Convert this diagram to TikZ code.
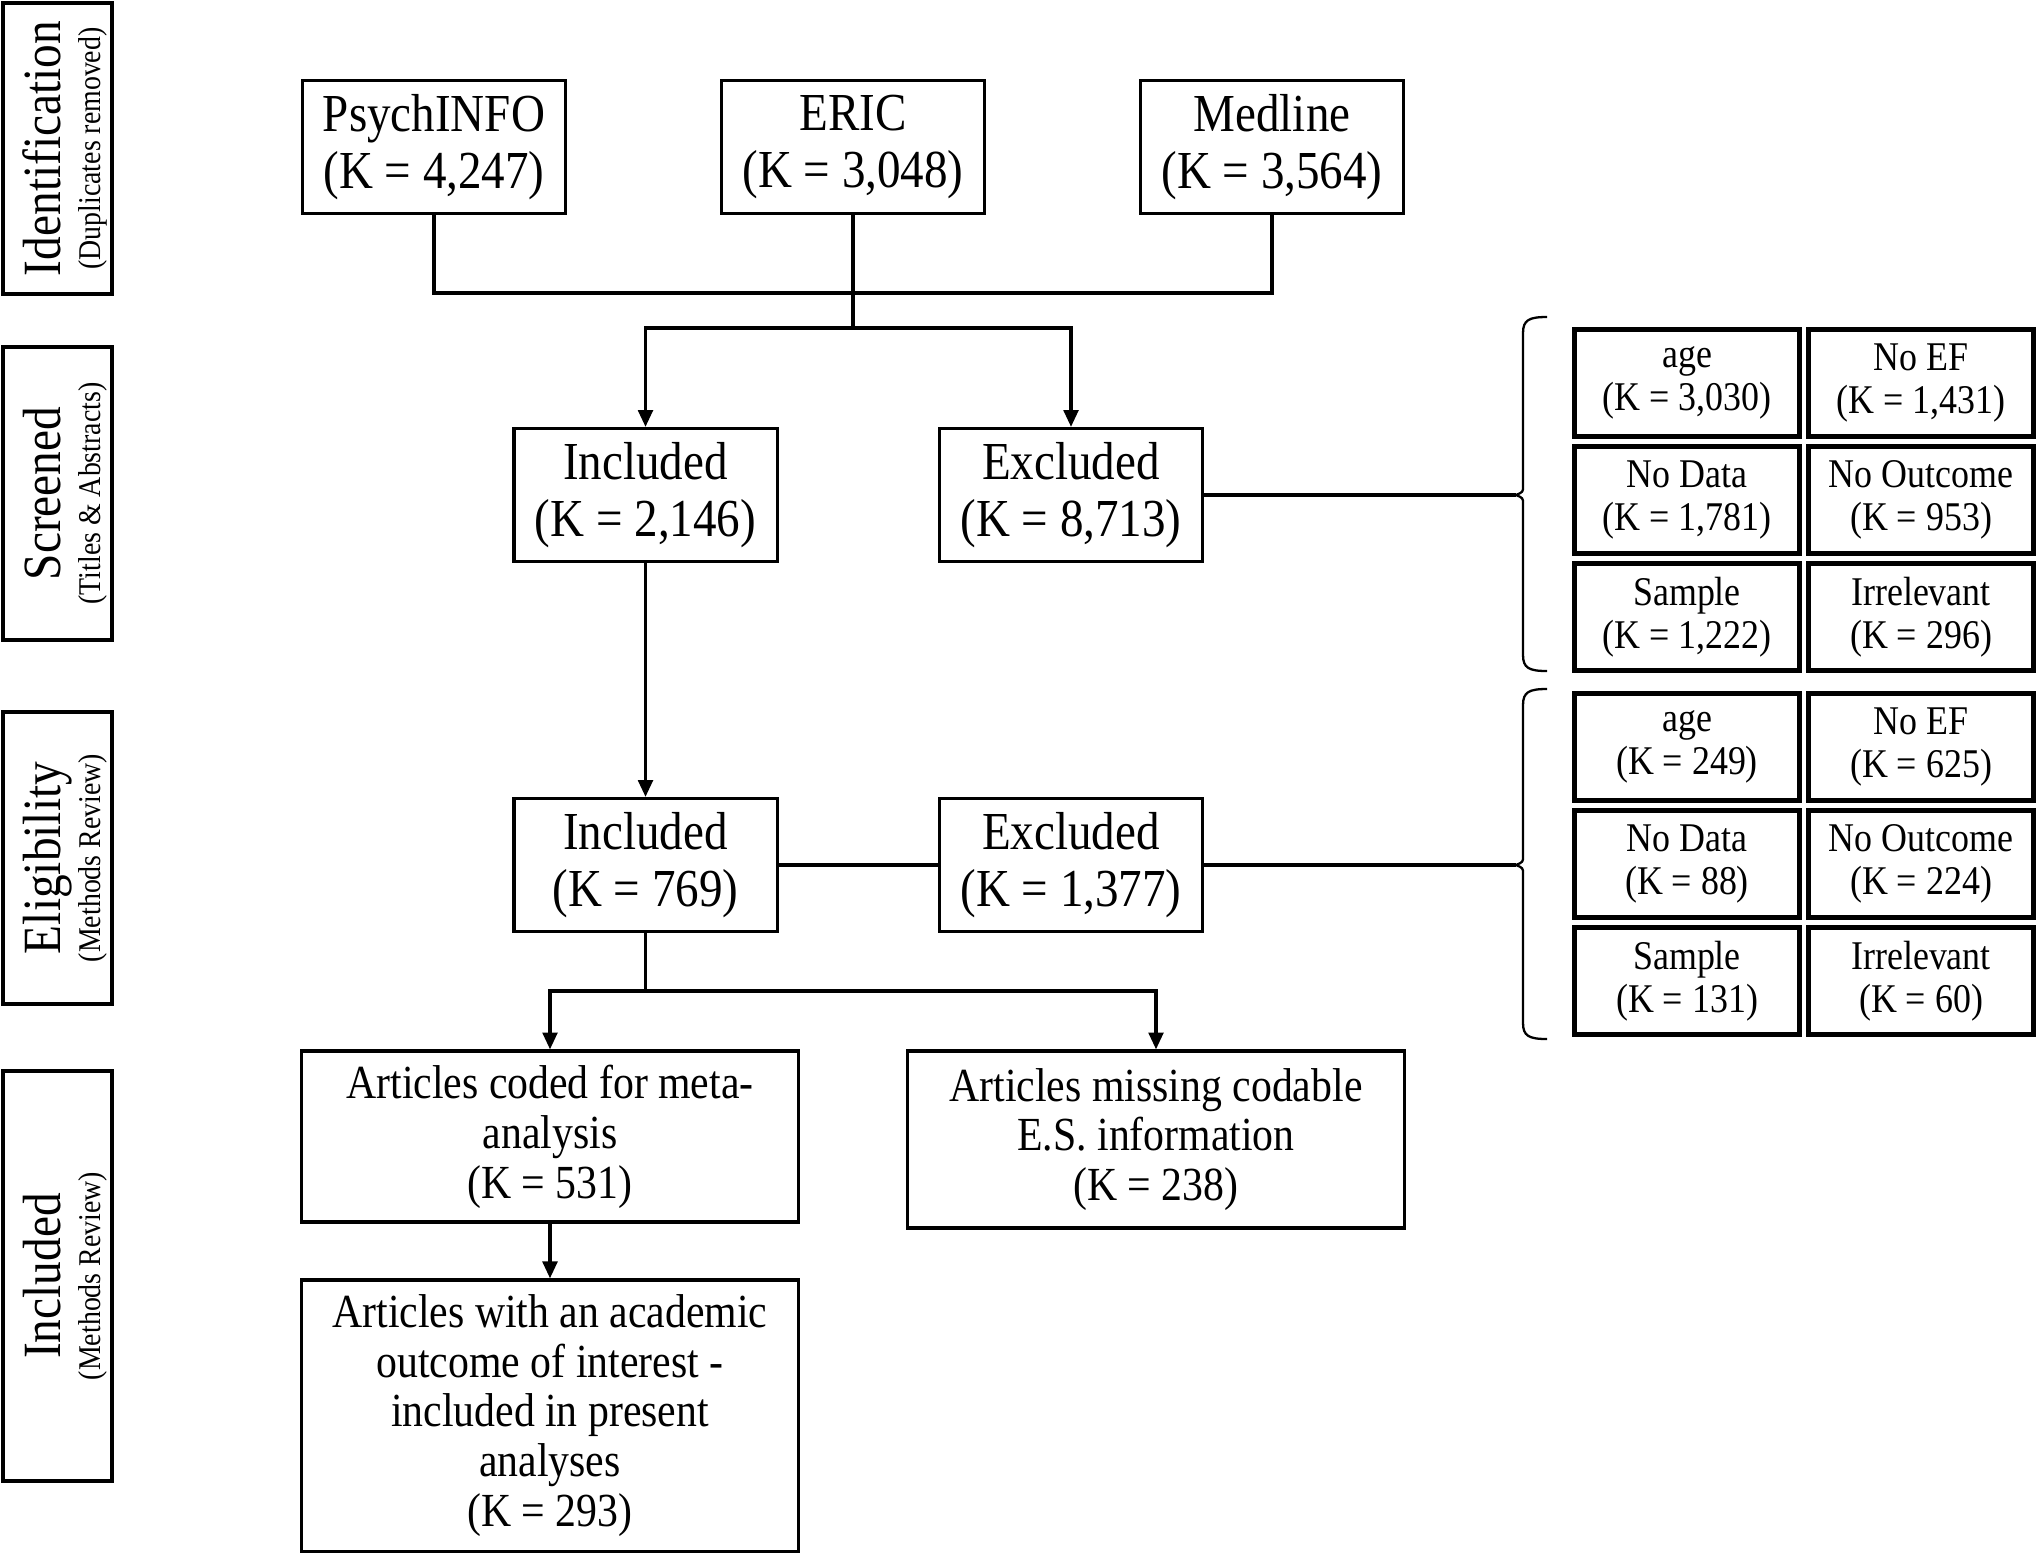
\documentclass[tikz,border=0pt]{standalone}
\usepackage{fontspec}
\setmainfont{Liberation Serif}
\newfontfamily\narrowfont[FakeStretch=0.88]{Liberation Serif}
\newcommand\stagesub{\narrowfont\fontsize{9pt}{10pt}\selectfont}
\usetikzlibrary{arrows.meta}

\begin{document}
\begin{tikzpicture}[x=0.01cm, y=-0.01cm,
  mainbox/.style={draw, line width=0.9pt, inner sep=0pt, align=center, minimum width=2.63cm, minimum height=1.33cm, font=\narrowfont\fontsize{15.2pt}{16.2pt}\selectfont},
  artbox/.style={draw, line width=0.9pt, inner sep=0pt, align=center, minimum width=4.96cm, font=\narrowfont\fontsize{13.5pt}{14.2pt}\selectfont},
  smallbox/.style={draw, line width=1.3pt, inner sep=0pt, align=center, minimum width=2.25cm, minimum height=1.07cm, font=\narrowfont\fontsize{11.6pt}{12.2pt}\selectfont},
  stagebox/.style={draw, line width=1.3pt, inner sep=0pt, rotate=90, minimum height=1.09cm},
  stagelab/.style={inner sep=0pt, align=center, rotate=90, font=\narrowfont\fontsize{15.3pt}{15pt}\selectfont},
  flow/.style={line width=0.9pt, -{Triangle[length=4.8pt,width=4.2pt]}},
  link/.style={line width=0.9pt},
  curly/.style={line width=0.65pt}
]
\useasboundingbox (0,0) rectangle (2040,1554);

\node[stagebox, minimum width=2.91cm] (ident) at (57.5,148.5) {};
\node[stagebox, minimum width=2.93cm] (screen) at (57.5,493.5) {};
\node[stagebox, minimum width=2.92cm] (elig) at (57.5,858) {};
\node[stagebox, minimum width=4.10cm] (incl) at (57.5,1276) {};
\node[stagelab] (identlab) at (65,148.5) {Identification\\[-3.5pt]{\stagesub (Duplicates removed)}};
\node[stagelab] (screenlab) at (65,493.5) {Screened\\[-3.5pt]{\stagesub (Titles \& Abstracts)}};
\node[stagelab] (eliglab) at (65,858) {Eligibility\\[-3.5pt]{\stagesub (Methods Review)}};
\node[stagelab] (incllab) at (65,1276) {Included\\[-3.5pt]{\stagesub (Methods Review)}};

\node[mainbox] (psych) at (434,147) {PsychINFO\\(K = 4,247)};
\node[mainbox] (eric) at (853,147) {ERIC\\(K = 3,048)};
\node[mainbox] (medl) at (1272,147) {Medline\\(K = 3,564)};

\node[mainbox] (sinc) at (645.5,495) {Included\\(K = 2,146)};
\node[mainbox] (sexc) at (1071,495) {Excluded\\(K = 8,713)};
\node[mainbox] (einc) at (645.5,865) {Included\\(K = 769)};
\node[mainbox] (eexc) at (1071,865) {Excluded\\(K = 1,377)};

\node[artbox, minimum height=1.71cm] (coded) at (550,1136.5) {Articles coded for meta-\\analysis\\(K = 531)};
\node[artbox, minimum height=1.77cm] (missing) at (1156,1139.5) {Articles missing codable\\E.S. information\\(K = 238)};
\node[artbox, minimum height=2.71cm] (acad) at (550,1415.5) {Articles with an academic\\outcome of interest -\\included in present\\analyses\\(K = 293)};

\coordinate (busa) at (853,293);
\coordinate (busb) at (853,328);
\coordinate (busc) at (645.5,991);
\draw[link] (psych.south) |- (busa) -| (medl.south);
\draw[link] (eric.south) -- (busb);
\draw[flow] (busb) -| (sinc.north);
\draw[flow] (busb) -| (sexc.north);
\draw[flow] (sinc) -- (einc);
\draw[link] (einc) -- (eexc);
\draw[link] (einc) -- (busc);
\draw[flow] (busc) -| (coded.north);
\draw[flow] (busc) -| (missing.north);
\draw[flow] (coded) -- (acad);

\foreach \lab/\ka/\kb/\cx/\cy [count=\i] in {age/{3,030}/249/1687/383, No EF/{1,431}/625/1921/383, No Data/{1,781}/88/1687/500, No Outcome/953/224/1921/500, Sample/{1,222}/131/1687/617, Irrelevant/296/60/1921/617} {
 \node[smallbox] (scr\i) at (\cx,\cy) {\lab\\(K = \ka)};
 \node[smallbox] (elx\i) at (\cx,\cy+364) {\lab\\(K = \kb)};
}

\foreach \top/\mid/\bot in {317/495/671, 689/865/1039} {
 \draw[curly] (1547,\top) .. controls (1529,\top) and (1523,\top+3) .. (1523,\top+16)
   -- (1523,\mid-9) .. controls (1523,\mid-3) .. (1516,\mid) .. controls (1523,\mid+3) .. (1523,\mid+9)
   -- (1523,\bot-16) .. controls (1523,\bot-3) and (1529,\bot) .. (1547,\bot);
}
\coordinate (tipa) at (1516,495);
\coordinate (tipb) at (1516,865);
\draw[link] (sexc.east) -- (tipa);
\draw[link] (eexc.east) -- (tipb);
\end{tikzpicture}
\end{document}
